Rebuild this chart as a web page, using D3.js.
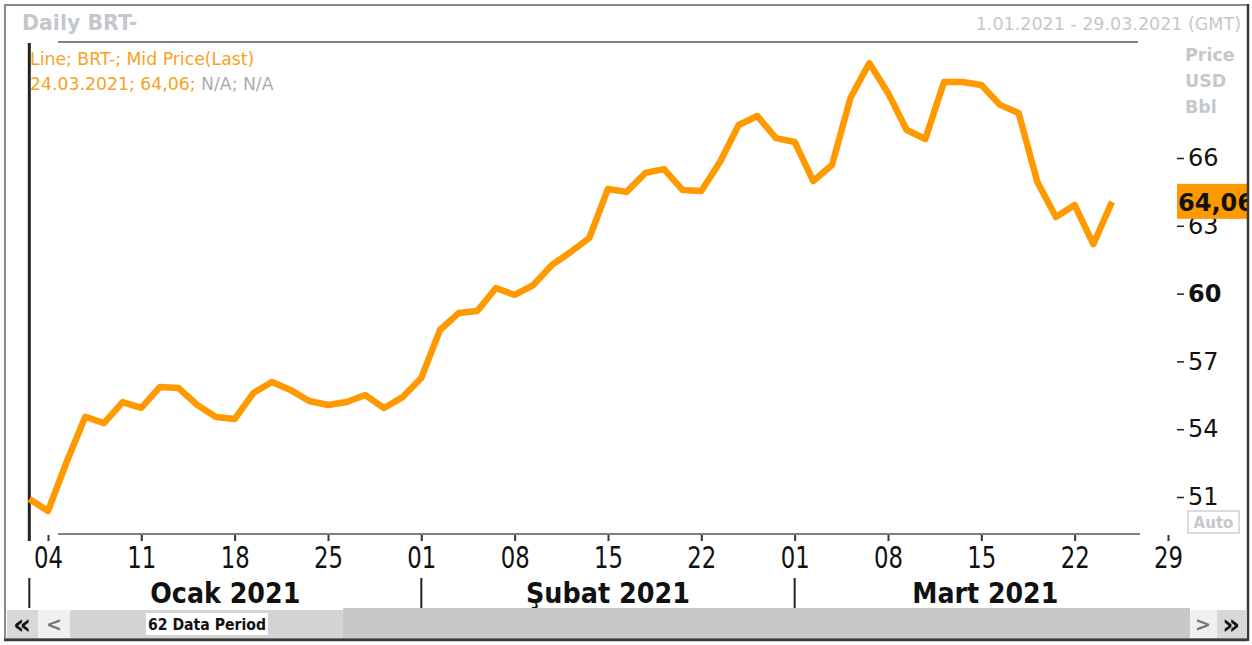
<!DOCTYPE html>
<html>
<head>
<meta charset="utf-8">
<script src="https://cdn.jsdelivr.net/npm/d3@7"></script>
<style>
body { margin: 0; background: #fff; }
svg text { font-family: "DejaVu Sans", Tahoma, sans-serif; }
</style>
</head>
<body>
<script>
// trading days on the chart (62 data periods)
dates = [
        "2021-01-01", "2021-01-04", "2021-01-05", "2021-01-06", "2021-01-07", "2021-01-08",
        "2021-01-11", "2021-01-12", "2021-01-13", "2021-01-14", "2021-01-15",
        "2021-01-18", "2021-01-19", "2021-01-20", "2021-01-21", "2021-01-22",
        "2021-01-25", "2021-01-26", "2021-01-27", "2021-01-28", "2021-01-29",
        "2021-02-01", "2021-02-02", "2021-02-03", "2021-02-04", "2021-02-05",
        "2021-02-08", "2021-02-09", "2021-02-10", "2021-02-11", "2021-02-12",
        "2021-02-15", "2021-02-16", "2021-02-17", "2021-02-18", "2021-02-19",
        "2021-02-22", "2021-02-23", "2021-02-24", "2021-02-25", "2021-02-26",
        "2021-03-01", "2021-03-02", "2021-03-03", "2021-03-04", "2021-03-05",
        "2021-03-08", "2021-03-09", "2021-03-10", "2021-03-11", "2021-03-12",
        "2021-03-15", "2021-03-16", "2021-03-17", "2021-03-18", "2021-03-19",
        "2021-03-22", "2021-03-23", "2021-03-24", "2021-03-25", "2021-03-26",
        "2021-03-29"
]

// BRT- mid price (last), one value per trading day up to 24.03
prices = [
        50.91, 50.38, 52.55, 54.55, 54.27, 55.20, 54.94, 55.87, 55.82, 55.07,
        54.54, 54.45, 55.60, 56.09, 55.73, 55.25, 55.07, 55.20, 55.51, 54.94,
        55.42, 56.27, 58.39, 59.14, 59.23, 60.25, 59.94, 60.38, 61.27, 61.84,
        62.46, 64.63, 64.50, 65.34, 65.51, 64.58, 64.54, 65.82, 67.46, 67.86,
        66.88, 66.71, 64.98, 65.69, 68.68, 70.20, 68.88, 67.24, 66.84, 69.36,
        69.36, 69.23, 68.35, 67.99, 64.94, 63.39, 63.92, 62.19, 64.06
]

yTicks = [51, 54, 57, 60, 63, 66]
boldTick = 60
monthNames = ["Ocak 2021", "Şubat 2021", "Mart 2021"]
lastLabel = "64,06"

W = 1252
H = 645
orange = "#ff9900"
lightGray = "#c4c8cc"

svg = d3.select("body").append("svg")
        .attr("width", W)
        .attr("height", H)

x = d3.scaleLinear().domain([0, dates.length - 1]).range([29.3, 1168])
y = d3.scaleLinear().domain([51, 66]).range([497, 158])
parse = d3.timeParse("%Y-%m-%d")
days = dates.map(parse)

// frame
svg.append("rect").attr("x", 5).attr("y", 5).attr("width", 1243).attr("height", 634)
        .attr("fill", "#fff").attr("stroke", "#8a8a8a").attr("stroke-width", 2)
svg.append("line").attr("x1", 4).attr("x2", 1249).attr("y1", 640).attr("y2", 640)
        .attr("stroke", "#3a3a3a").attr("stroke-width", 2.5)

// header
svg.append("text").attr("x", 22).attr("y", 30)
        .attr("font-size", 20.5).attr("font-weight", "bold").attr("fill", lightGray)
        .text("Daily BRT-")
svg.append("text").attr("x", 1241).attr("y", 30).attr("text-anchor", "end")
        .attr("font-size", 17.5).attr("fill", lightGray)
        .text("1.01.2021 - 29.03.2021 (GMT)")
svg.append("line").attr("x1", 58).attr("x2", 1138).attr("y1", 42).attr("y2", 42)
        .attr("stroke", "#808080").attr("stroke-width", 2)

unitG = svg.append("g")
;["Price", "USD", "Bbl"].forEach(function(t, i) {
        unitG.append("text").attr("x", 1185).attr("y", 61 + i * 26)
                .attr("font-size", 17.5).attr("font-weight", "bold").attr("fill", lightGray)
                .text(t)
})

// legend
svg.append("text").attr("x", 30).attr("y", 65).attr("font-size", 17.3)
        .attr("fill", "#f7a21e").text("Line; BRT-; Mid Price(Last)")
leg2 = svg.append("text").attr("x", 30).attr("y", 90).attr("font-size", 17.3)
leg2.append("tspan").attr("fill", "#f7a21e").text("24.03.2021; 64,06;")
leg2.append("tspan").attr("fill", "#a8aeb4").text(" N/A; N/A")

// left cursor line
svg.append("line").attr("x1", x(0)).attr("x2", x(0)).attr("y1", 43).attr("y2", 541)
        .attr("stroke", "#222").attr("stroke-width", 3)

// x axis
svg.append("line").attr("x1", 58).attr("x2", 1140).attr("y1", 534).attr("y2", 534)
        .attr("stroke", "#808080").attr("stroke-width", 2)

mondays = d3.range(dates.length).filter(function(i) { return days[i].getDay() == 1 })

xAxis = svg.append("g").attr("transform", "translate(0,535)")
        .call(d3.axisBottom(x).tickValues(mondays).tickSize(6).tickPadding(6)
                .tickFormat(function(i) { return d3.timeFormat("%d")(days[i]) }))
xAxis.select(".domain").remove()
xAxis.selectAll(".tick line").attr("stroke", "#333").attr("stroke-width", 2)
xAxis.selectAll(".tick text")
        .attr("font-family", "'Liberation Sans', Arial, sans-serif")
        .attr("font-size", 30).attr("fill", "#111")
        .attr("textLength", 29).attr("lengthAdjust", "spacingAndGlyphs")

// months
monthStart = d3.range(dates.length).filter(function(i) { return i == 0 || days[i].getMonth() != days[i - 1].getMonth() })
monthG = svg.append("g")
monthStart.forEach(function(s, k) {
        var xs = x(s)
        var xe = k + 1 < monthStart.length ? x(monthStart[k + 1]) : 1176
        monthG.append("line").attr("x1", xs).attr("x2", xs).attr("y1", 578).attr("y2", 608)
                .attr("stroke", "#222").attr("stroke-width", 2)
        monthG.append("text").attr("x", (xs + xe) / 2).attr("y", 603)
                .attr("text-anchor", "middle")
                .attr("font-family", "'Liberation Sans', Arial, sans-serif")
                .attr("font-size", 29).attr("font-weight", "bold").attr("fill", "#111")
                .attr("textLength", [150, 164, 146][k]).attr("lengthAdjust", "spacingAndGlyphs")
                .text(monthNames[k])
})

// y axis
yAxis = svg.append("g").attr("transform", "translate(1177,0)")
        .call(d3.axisRight(y).tickValues(yTicks).tickSize(7).tickPadding(4))
yAxis.select(".domain").remove()
yAxis.selectAll(".tick line").attr("stroke", "#222").attr("stroke-width", 1.5)
yAxis.selectAll(".tick text")
        .attr("font-family", "'DejaVu Sans', Tahoma, sans-serif")
        .attr("font-size", 24).attr("fill", "#111")
        .attr("font-weight", function(d) { return d == boldTick ? "bold" : "normal" })

// price line
line = d3.line()
        .x(function(d, i) { return x(i) })
        .y(function(d) { return y(d) })
svg.append("path").datum(prices)
        .attr("fill", "none")
        .attr("stroke", orange)
        .attr("stroke-width", 6.5)
        .attr("stroke-linejoin", "round")
        .attr("d", line)

// last value marker
lastY = y(prices[prices.length - 1])
svg.append("rect").attr("x", 1177).attr("y", lastY - 18).attr("width", 70).attr("height", 35)
        .attr("fill", orange)
svg.append("text").attr("x", 1178).attr("y", lastY + 9)
        .attr("font-size", 24).attr("font-weight", "bold").attr("fill", "#111")
        .text(lastLabel)

// Auto box
svg.append("rect").attr("x", 1188).attr("y", 511).attr("width", 51).attr("height", 22)
        .attr("fill", "#fff").attr("stroke", "#d0d0d0").attr("stroke-width", 1.5)
svg.append("text").attr("x", 1213.5).attr("y", 528).attr("text-anchor", "middle")
        .attr("font-size", 15).attr("font-weight", "bold").attr("fill", lightGray)
        .text("Auto")

// right frame edge drawn last so the marker is clipped
svg.append("rect").attr("x", 1247).attr("y", 4).attr("width", 5).attr("height", 641).attr("fill", "#fff")
svg.append("line").attr("x1", 1248).attr("x2", 1248).attr("y1", 4).attr("y2", 641)
        .attr("stroke", "#3a3a3a").attr("stroke-width", 2.5)

// scroll bar
sb = svg.append("g")
sb.append("rect").attr("x", 7).attr("y", 610).attr("width", 31).attr("height", 28).attr("fill", "#d8d8d8")
sb.append("rect").attr("x", 38).attr("y", 610).attr("width", 32).attr("height", 28).attr("fill", "#f0f0f0")
sb.append("rect").attr("x", 70).attr("y", 610).attr("width", 273).attr("height", 28).attr("fill", "#d4d4d4")
sb.append("rect").attr("x", 343).attr("y", 608).attr("width", 847).attr("height", 30).attr("fill", "#c8c8c8")
sb.append("rect").attr("x", 1190).attr("y", 610).attr("width", 27).attr("height", 28).attr("fill", "#f0f0f0")
sb.append("rect").attr("x", 1217).attr("y", 610).attr("width", 30).attr("height", 28).attr("fill", "#d8d8d8")
sb.append("rect").attr("x", 146).attr("y", 613).attr("width", 122).attr("height", 22).attr("fill", "#fff")
sb.append("text").attr("x", 148).attr("y", 630)
        .attr("font-family", "'Liberation Sans', Arial, sans-serif")
        .attr("font-size", 15).attr("font-weight", "bold").attr("fill", "#111")
        .attr("textLength", 118).attr("lengthAdjust", "spacingAndGlyphs")
        .text("62 Data Period")
sb.append("text").attr("x", 22).attr("y", 634).attr("text-anchor", "middle")
        .attr("font-size", 28).attr("font-weight", "bold").attr("fill", "#111").text("«")
sb.append("text").attr("x", 54).attr("y", 631).attr("text-anchor", "middle")
        .attr("font-size", 19).attr("font-weight", "bold").attr("fill", "#777").text("<")
sb.append("text").attr("x", 1203).attr("y", 631).attr("text-anchor", "middle")
        .attr("font-size", 19).attr("font-weight", "bold").attr("fill", "#777").text(">")
sb.append("text").attr("x", 1231).attr("y", 634).attr("text-anchor", "middle")
        .attr("font-size", 28).attr("font-weight", "bold").attr("fill", "#111").text("»")
</script>
</body>
</html>
